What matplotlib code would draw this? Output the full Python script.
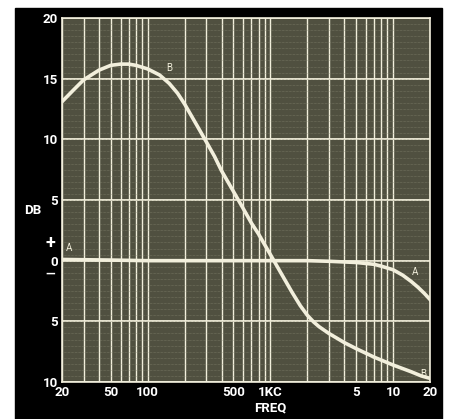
import numpy as np
import matplotlib.pyplot as plt
from matplotlib.patches import Rectangle

# curve A: flat response with top-end roll-off
freq_a = [20, 50, 100, 500, 1000, 2000, 3000, 5000, 7000, 8000,
          10000, 12000, 14000, 16000, 18000, 20000]
db_a = [0.1, 0.05, 0, 0, 0, 0, -0.05, -0.15, -0.3, -0.45,
        -0.75, -1.2, -1.7, -2.2, -2.7, -3.2]

# curve B: bass boost, treble cut
freq_b = [20, 25, 30, 40, 50, 60, 70, 80, 100, 125, 150, 175, 200, 250,
          300, 350, 400, 500, 600, 700, 800, 900, 1000, 1200, 1500, 1750,
          2000, 2250, 2500, 3000, 3500, 4000, 5000, 7000, 10000, 14000,
          17000, 20000]
db_b = [13.1, 14.1, 14.9, 15.7, 16.1, 16.2, 16.2, 16.1, 15.8, 15.3, 14.6,
        13.8, 12.9, 11.2, 9.8, 8.6, 7.4, 5.7, 4.3, 3.1, 2.2, 1.3, 0.5,
        -0.9, -2.6, -3.7, -4.5, -5.05, -5.45, -6.0, -6.4, -6.75, -7.25,
        -7.95, -8.6, -9.15, -9.5, -9.7]

y_ticks = [20, 15, 10, 5, 0, -5, -10]
y_labels = ['20', '15', '10', '5', '0', '5', '10']
x_ticks = [20, 50, 100, 500, 1000, 5000, 10000, 20000]
x_labels = ['20', '50', '100', '500', '1KC', '5', '10', '20']

ink = '#f2efdc'
font = ['Liberation Sans Narrow', 'Roboto', 'DejaVu Sans']

fig = plt.figure(figsize=(4.49, 4.19), dpi=100, facecolor='white')
# black board behind the chart
fig.patches.append(Rectangle((15 / 449, 0), 427 / 449, 1 - 8 / 419,
                             transform=fig.transFigure, color='black', zorder=-5))

ax = fig.add_axes([62 / 449, 1 - 382 / 419, 368 / 449, 364 / 419])
ax.set_facecolor('#505040')
ax.set_xscale('log')
ax.set_xlim(20, 20000)
ax.set_ylim(-10, 20)

# screen texture + grid
for v in np.arange(-10, 20, 0.5):
    ax.axhline(v, color='#8c8c76', lw=0.4, ls=(0, (1, 1.5)), zorder=1)
ax.grid(True, which='both', axis='x', color=ink, lw=1.0, zorder=2)
ax.grid(True, which='major', axis='y', color=ink, lw=1.3, zorder=2)
ax.set_axisbelow(True)
ax.set_yticks(y_ticks)
ax.set_yticklabels(y_labels)
ax.set_xticks(x_ticks)
ax.set_xticklabels(x_labels)
ax.minorticks_on()
ax.yaxis.set_minor_locator(plt.NullLocator())
ax.xaxis.set_minor_formatter(plt.NullFormatter())
ax.tick_params(which='both', length=0, colors='white', labelsize=9.5, pad=3)
for lab in ax.get_xticklabels() + ax.get_yticklabels():
    lab.set_family(font)
    lab.set_fontweight('bold')
for s in ax.spines.values():
    s.set_color(ink)
    s.set_linewidth(1.2)

ax.plot(freq_a, db_a, color=ink, lw=2.6, zorder=3)
ax.plot(freq_b, db_b, color=ink, lw=2.6, zorder=3)

ax.text(23, 0.8, 'A', color=ink, fontsize=7, family=font, ha='center', zorder=4)
ax.text(15000, -1.2, 'A', color=ink, fontsize=7, family=font, ha='center', zorder=4)
ax.text(150, 15.6, 'B', color=ink, fontsize=7, family=font, ha='center', zorder=4)
ax.text(17500, -9.6, 'B', color=ink, fontsize=7, family=font, ha='center', zorder=4)

fig.text(33 / 449, 1 - 210 / 419, 'DB', color='white', fontsize=9.5, family=font,
         fontweight='bold', ha='center', va='center')
fig.text(50 / 449, 1 - 243 / 419, '+', color='white', fontsize=13, family=font,
         fontweight='bold', ha='center', va='center')
fig.text(50 / 449, 1 - 274 / 419, '\u2014', color='white', fontsize=9, family=font,
         fontweight='bold', ha='center', va='center')
fig.text(270 / 449, 1 - 408 / 419, 'FREQ', color='white', fontsize=9.5, family=font,
         fontweight='bold', ha='center', va='center')

fig.savefig('out.png', dpi=100, facecolor='white')
